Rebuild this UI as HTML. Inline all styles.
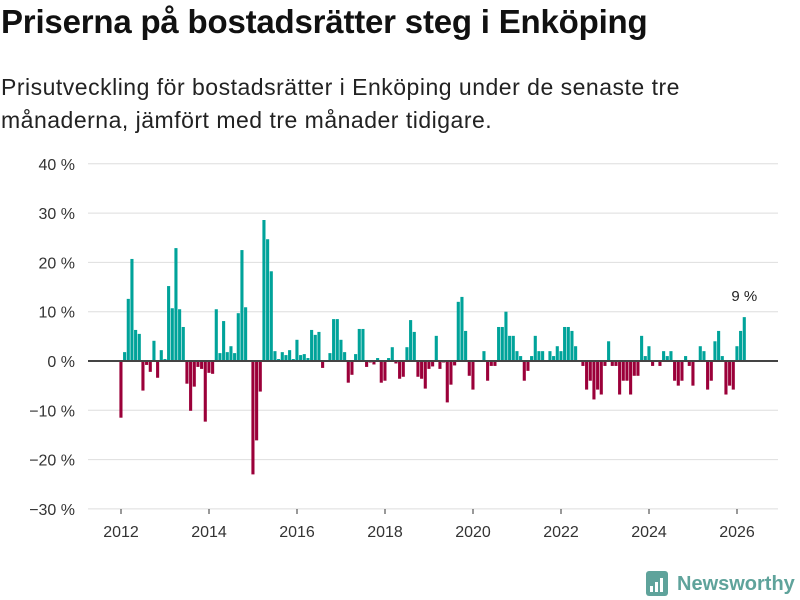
<!DOCTYPE html>
<html><head><meta charset="utf-8">
<style>
body{margin:0;background:#fff;font-family:"Liberation Sans","DejaVu Sans",sans-serif;}
#wrap{position:relative;width:800px;height:600px;overflow:hidden;}
h1{position:absolute;left:1px;top:3px;margin:0;font-size:33px;font-weight:bold;color:#111;letter-spacing:-0.2px;}
p.sub{position:absolute;left:1px;top:71px;margin:0;font-size:23px;line-height:33px;color:#222;letter-spacing:0.5px;}
svg{position:absolute;left:0;top:0;}
</style></head><body>
<div id="wrap">
<h1>Priserna på bostadsrätter steg i Enköping</h1>
<p class="sub">Prisutveckling för bostadsrätter i Enköping under de senaste tre<br>månaderna, jämfört med tre månader tidigare.</p>
<svg id="chart" width="800" height="600"></svg>
</div>
<script>
const yTicks=[40,30,20,10,0,-10,-20,-30];
const xTickYears=[2012,2014,2016,2018,2020,2022,2024,2026];
const startYear=2012;
const values=[
-11.5,1.8,12.6,20.7,6.3,5.5,-6.0,-0.8,-2.2,4.1,-3.4,2.2,
0.4,15.2,10.7,22.9,10.5,6.9,-4.6,-10.1,-5.2,-1.2,-1.6,-12.3,
-2.4,-2.6,10.5,1.6,8.1,1.8,3.0,1.6,9.7,22.5,10.9,0,
-23.0,-16.1,-6.2,28.6,24.7,18.2,2.0,0.4,1.8,1.2,2.2,0.4,
4.3,1.2,1.4,0.6,6.3,5.3,5.9,-1.4,0,1.6,8.5,8.5,
4.3,1.8,-4.4,-2.8,1.4,6.5,6.5,-1.2,-0.3,-0.7,0.6,-4.4,
-4.0,0.6,2.8,-0.5,-3.6,-3.2,2.8,8.3,5.9,-3.2,-3.6,-5.6,
-1.6,-1.1,5.1,-1.6,-0.3,-8.4,-4.8,-0.9,12.0,13.0,6.1,-3.0,
-5.8,0,0,2.0,-4.0,-1.0,-1.0,6.9,6.9,10.0,5.1,5.1,
2.0,1.0,-4.0,-2.0,1.0,5.1,2.0,2.0,0,2.0,1.0,3.0,
2.0,6.9,6.9,6.1,3.0,0,-1.0,-5.8,-4.0,-7.8,-5.8,-6.8,
-1.0,4.0,-1.0,-1.0,-6.8,-4.0,-4.0,-6.8,-3.0,-3.0,5.1,1.0,
3.0,-1.0,0,-1.0,2.0,1.0,2.0,-4.0,-5.0,-4.0,1.0,-1.0,
-5.0,0,3.0,2.0,-5.8,-4.0,4.0,6.1,1.0,-6.8,-5.0,-5.8,
3.0,6.1,8.9];
const lastLabel="9 %";

const NS="http://www.w3.org/2000/svg";
const svg=document.getElementById('chart');
const y=v=>361-(v/10)*49.3;
const xm=i=>121+i*(44/12);
const xy=yr=>121+(yr-startYear)*44;
function mk(t,a){const e=document.createElementNS(NS,t);for(const k in a)e.setAttribute(k,a[k]);svg.appendChild(e);return e;}
yTicks.forEach(t=>{
  if(t!==0){const g=mk('line',{x1:88,x2:778,y1:y(t),y2:y(t),stroke:'#dedede','stroke-width':1});
  
  }
  const l=mk('text',{x:75,y:y(t)+6,'text-anchor':'end','font-size':16,fill:'#333'});
  l.textContent=(t<0?'\u2212'+(-t):t)+' %';
  
  
});
xTickYears.forEach(yr=>{
  const tk=mk('line',{x1:xy(yr),x2:xy(yr),y1:509,y2:514,stroke:'#333','stroke-width':1});
  
  
  const l=mk('text',{x:xy(yr),y:537,'text-anchor':'middle','font-size':16,fill:'#333'});
  l.textContent=yr;
  
  
});
values.forEach((v,i)=>{
  const top=Math.min(y(v),y(0)), h=Math.abs(y(v)-y(0));
  const b=mk('rect',{x:xm(i)-1.6,y:top,width:3.1,height:h,fill:v>=0?'#00a39a':'#9b0039'});
  
  
});
const z=mk('line',{x1:88,x2:778,y1:y(0),y2:y(0),stroke:'#444','stroke-width':2});


const li=values.length-1;
const an=mk('text',{x:xm(li),y:y(values[li])-16,'text-anchor':'middle','font-size':15,fill:'#222'});
an.textContent=lastLabel;


const lg=mk('g',{});


const ic=mk('rect',{x:646,y:571,width:22,height:25,rx:3,fill:'#5fa39b'});


[[650,586,3,6],[655,582,3,10],[660,578,3,14]].forEach(r=>{
  const s=mk('rect',{x:r[0],y:r[1],width:r[2],height:r[3],fill:'#fff'});
  
  
});
const lt=mk('text',{x:677,y:590,'font-size':20,'font-weight':'bold',fill:'#5fa39b'});
lt.textContent='Newsworthy';


</script>
</body></html>
